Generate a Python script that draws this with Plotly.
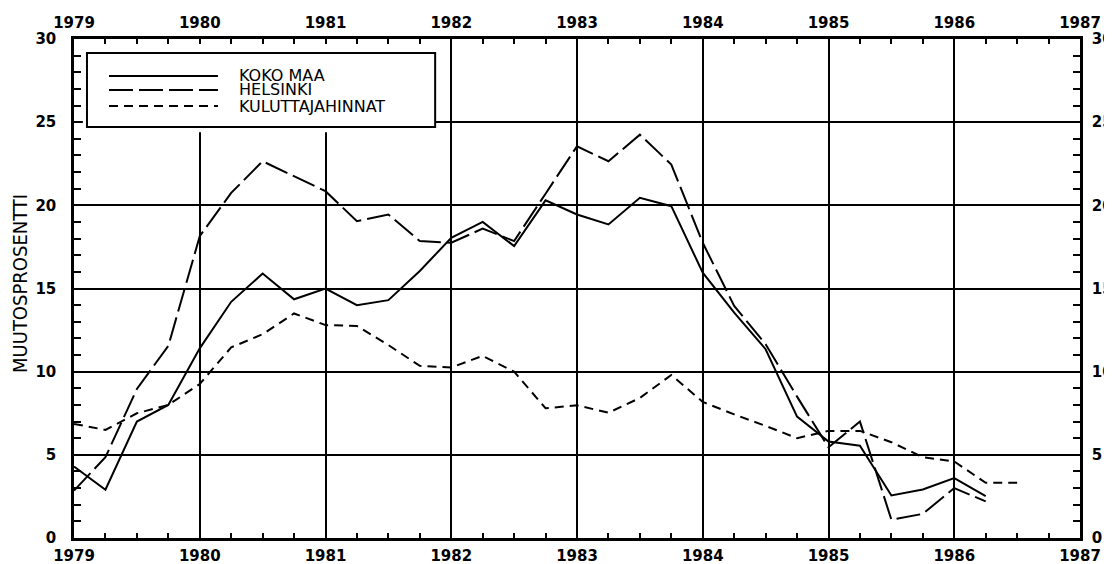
import plotly.graph_objects as go

# Quarterly observations
quarters = [1979 + i * 0.25 for i in range(31)]

koko_maa = [4.3, 2.9, 7.0, 8.0,
            11.4, 14.2, 15.9, 14.35,
            15.0, 14.0, 14.3, 16.05,
            18.05, 19.0, 17.55, 20.3,
            19.45, 18.85, 20.45, 19.95,
            15.95, 13.55, 11.35, 7.3,
            5.8, 5.55, 2.56, 2.92,
            3.6, 2.52]

helsinki = [2.85, 4.86, 8.96, 11.55,
            18.15, 20.75, 22.65, 21.75,
            20.85, 19.05, 19.45, 17.85,
            17.75, 18.6, 17.85, 20.7,
            23.55, 22.65, 24.25, 22.45,
            17.75, 13.95, 11.65, 8.5,
            5.45, 7.0, 1.1, 1.45,
            3.0, 2.2]

kuluttajahinnat = [6.86, 6.5, 7.5, 8.0,
                   9.26, 11.46, 12.25, 13.5,
                   12.8, 12.75, 11.6, 10.35,
                   10.25, 10.95, 10.0, 7.8,
                   7.98, 7.53, 8.42, 9.8,
                   8.18, 7.43, 6.74, 6.0,
                   6.44, 6.44, 5.76, 4.86,
                   4.6, 3.32, 3.32]

series_names = ["KOKO MAA", "HELSINKI", "KULUTTAJAHINNAT"]
series_dash = ["solid", "24px,6px", "9px,6px"]
year_ticks = list(range(1979, 1988))
y_ticks = [0, 5, 10, 15, 20, 25, 30]
y_title = "MUUTOSPROSENTTI"

FONT = "DejaVu Sans"
tickfont = dict(family=FONT, size=15, color="black", weight="bold")

fig = go.Figure()
for name, vals, dash in zip(series_names, [koko_maa, helsinki, kuluttajahinnat], series_dash):
    fig.add_trace(go.Scatter(
        x=quarters[:len(vals)], y=vals, mode="lines", name=name,
        line=dict(color="black", width=2, dash=dash), showlegend=False,
        hoverinfo="skip"))

# invisible trace to activate the mirrored top/right axes
fig.add_trace(go.Scatter(x=quarters[:len(kuluttajahinnat)], y=kuluttajahinnat,
                         xaxis="x2", yaxis="y2", mode="lines",
                         line=dict(width=0, color="rgba(0,0,0,0)"),
                         showlegend=False, hoverinfo="skip"))

xcommon = dict(range=[1979, 1987], autorange=False, tickvals=year_ticks,
               ticktext=[str(y) for y in year_ticks], tickfont=tickfont,
               ticks="inside", ticklen=6, tickwidth=2, tickcolor="black",
               showline=True, linecolor="black", linewidth=2.5,
               zeroline=False, fixedrange=True, automargin=False,
               minor=dict(dtick=0.25, tick0=1979, ticks="inside", ticklen=5,
                          tickwidth=2, tickcolor="black", showgrid=False))
ycommon = dict(range=[0, 30], autorange=False, tickvals=y_ticks,
               tickfont=tickfont, ticks="inside", ticklen=7, tickwidth=2,
               tickcolor="black", showline=True, linecolor="black",
               linewidth=2.5, zeroline=False, fixedrange=True, automargin=False,
               minor=dict(dtick=1, tick0=0, ticks="inside", ticklen=7,
                          tickwidth=2, tickcolor="black", showgrid=False))

# the page body has an 8px margin, so the figure is a little smaller
fig.update_layout(
    width=1104, height=556, autosize=False,
    margin=dict(l=66, r=32, t=31, b=26),
    paper_bgcolor="white", plot_bgcolor="white",
    xaxis=dict(**xcommon, side="bottom", showgrid=True, gridcolor="black",
               gridwidth=2, ticklabelstandoff=2),
    xaxis2=dict(**xcommon, side="top", overlaying="x", anchor="y",
                showgrid=False, ticklabelstandoff=2),
    yaxis=dict(**ycommon, side="left", showgrid=True, gridcolor="black",
               gridwidth=2, ticklabelstandoff=12),
    yaxis2=dict(**ycommon, side="right", overlaying="y", anchor="x",
                showgrid=False, ticklabelstandoff=6),
)

# y-axis title
fig.add_annotation(xref="paper", yref="paper", x=-0.0537, y=0.511,
                   xanchor="center", yanchor="middle", textangle=-90,
                   text=y_title, showarrow=False,
                   font=dict(family="Liberation Sans Narrow, DejaVu Sans Condensed, Liberation Sans",
                             size=20, color="black"))

# white area under the legend box (the grid does not run through it)
fig.add_shape(type="rect", xref="paper", yref="paper",
              x0=0.0088, x1=0.359, y0=0.8133, y1=0.99,
              fillcolor="white", line=dict(width=0), layer="above")
# legend frame
fig.add_shape(type="rect", xref="paper", yref="paper",
              x0=0.0129, x1=0.359, y0=0.8236, y1=0.972,
              fillcolor="rgba(0,0,0,0)", line=dict(color="black", width=2),
              layer="above")

legend_rows = [0.9259, 0.8978, 0.8657]
for name, dash, yy in zip(series_names, series_dash, legend_rows):
    fig.add_shape(type="line", xref="paper", yref="paper",
                  x0=0.0348, x1=0.1431, y0=yy, y1=yy,
                  line=dict(color="black", width=2, dash=dash), layer="above")
    fig.add_annotation(xref="paper", yref="paper", x=0.162, y=yy,
                       xanchor="left", yanchor="middle", text=name,
                       showarrow=False,
                       font=dict(family=FONT, size=16, color="black"))

fig.write_html("out.html")
